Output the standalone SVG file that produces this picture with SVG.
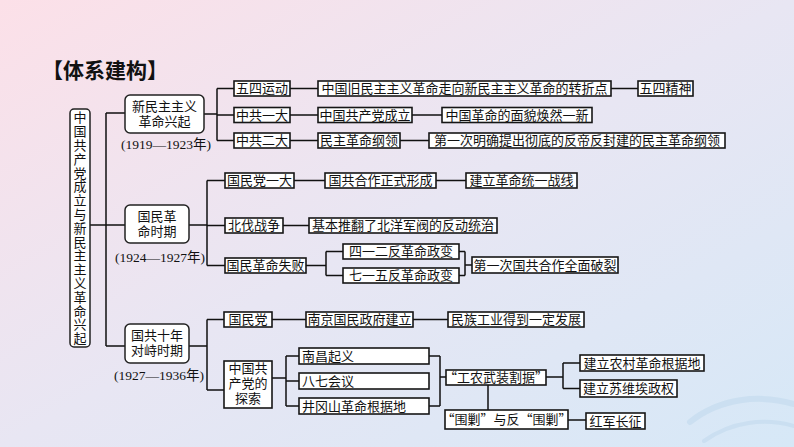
<svg xmlns="http://www.w3.org/2000/svg" width="794" height="447" viewBox="0 0 794 447">
<defs>
<linearGradient id="bg" x1="0" y1="0" x2="1" y2="1">
<stop offset="0" stop-color="#fce0e8"/>
<stop offset="0.5" stop-color="#e8e6f3"/>
<stop offset="1" stop-color="#d6e8f7"/>
</linearGradient>
<style>
.b{fill:#fff;stroke:#161616;stroke-width:1.6}
.n{fill:#fff;stroke:#222;stroke-width:1.5}
.t{font-family:"Noto Sans CJK SC","Noto Sans",sans-serif;font-size:13px;fill:#111;text-anchor:middle}
.l{text-anchor:start}
.y{font-family:"Liberation Serif","Noto Sans CJK SC",serif;font-size:13.5px;fill:#111;text-anchor:middle}
.c{fill:none;stroke:#111;stroke-width:1.5}
.w{fill:none;stroke:#c8def0;stroke-linecap:round}
</style>
</defs>
<rect width="794" height="447" fill="url(#bg)"/>
<g id="waves" opacity="0.8">
<path class="w" stroke-width="6" d="M690,422 C720,398 760,394 794,404"/>
<path class="w" stroke-width="4" d="M704,441 C732,421 765,418 794,426"/>
</g>
<text x="42" y="78" style="font-family:'Noto Sans CJK SC',sans-serif;font-size:21px;font-weight:700;fill:#111">【体系建构】</text>

<g id="connectors">
<path class="c" d="M90,225 H125 M106,113 V346 M106,113 H125 M106,346 H125"/>
<path class="c" d="M204,114 H217 M217,88.5 V140.5 M217,88.5 H234 M217,115 H234 M217,140.5 H234 M290,88.5 H318 M611,88.5 H638 M290,115 H318 M412,115 H442 M290,140.5 H318 M400,140.5 H429"/>
<path class="c" d="M189,225 H207 M207,180.5 V265.5 M207,180.5 H225 M207,225.5 H225 M207,265.5 H225 M294,180.5 H325 M436,180.5 H466 M283,225.5 H309 M306,265.5 H326 M326,251.5 V275.5 M326,251.5 H343 M326,275.5 H343 M459,251.5 H465 M459,275.5 H465 M465,251.5 V275.5 M465,265 H472"/>
<path class="c" d="M189,346 H207 M207,319.5 V390 M207,319.5 H224 M207,390 H224 M272,319.5 H306 M413,319.5 H448 M272,378 H286 M286,356 V406 M286,356 H299 M286,381 H299 M286,406 H299 M429,356 H440 M429,406 H440 M440,356 V406 M440,377 H446 M546,377 H563 M563,363 V388.5 M563,363 H580 M563,388.5 H580 M488,385 V410 M568,420 H586"/>
</g>

<g id="root">
<rect class="n" x="70" y="109" width="20" height="238" rx="4"/>
<text class="t" x="80" y="111" style="writing-mode:vertical-rl;text-anchor:start;letter-spacing:0.8px">中国共产党成立与新民主主义革命兴起</text>
</g>

<g id="node1">
<rect class="n" x="125" y="95" width="79" height="38" rx="5"/>
<text class="t"><tspan x="164.5" y="111">新民主主义</tspan><tspan x="164.5" dy="15">革命兴起</tspan></text>
<text class="y" x="166" y="149">(1919—1923年)</text>
</g>
<g id="node2">
<rect class="n" x="125" y="205" width="64" height="38" rx="5"/>
<text class="t"><tspan x="157" y="221">国民革</tspan><tspan x="157" dy="15">命时期</tspan></text>
<text class="y" x="160" y="262">(1924—1927年)</text>
</g>
<g id="node3">
<rect class="n" x="125" y="324" width="64" height="39" rx="5"/>
<text class="t"><tspan x="157" y="340">国共十年</tspan><tspan x="157" dy="15">对峙时期</tspan></text>
<text class="y" x="159" y="380">(1927—1936年)</text>
</g>

<g id="b-wusi"><rect class="b" x="234" y="81" width="56" height="15"/><text class="t" x="262" y="93">五四运动</text></g>
<g id="b-zhuanzhe"><rect class="b" x="318" y="81" width="293" height="15"/><text class="t" x="464.5" y="93">中国旧民主主义革命走向新民主主义革命的转折点</text></g>
<g id="b-jingshen"><rect class="b" x="638" y="81" width="55" height="15"/><text class="t" x="665.5" y="93">五四精神</text></g>
<g id="b-yida"><rect class="b" x="234" y="107.5" width="56" height="15"/><text class="t" x="262" y="119.5">中共一大</text></g>
<g id="b-chengli"><rect class="b" x="318" y="107.5" width="94" height="15"/><text class="t" x="365" y="119.5">中国共产党成立</text></g>
<g id="b-mianmao"><rect class="b" x="442" y="107.5" width="150" height="15"/><text class="t" x="517" y="119.5">中国革命的面貌焕然一新</text></g>
<g id="b-erda"><rect class="b" x="234" y="133" width="56" height="15"/><text class="t" x="262" y="145">中共二大</text></g>
<g id="b-gangling"><rect class="b" x="318" y="133" width="82" height="15"/><text class="t" x="359" y="145">民主革命纲领</text></g>
<g id="b-diyici"><rect class="b" x="429" y="133" width="296" height="15"/><text class="t" x="577" y="145">第一次明确提出彻底的反帝反封建的民主革命纲领</text></g>

<g id="b-gmdyd"><rect class="b" x="225" y="173" width="69" height="15"/><text class="t" x="259.5" y="185">国民党一大</text></g>
<g id="b-hezuo"><rect class="b" x="325" y="173" width="111" height="15"/><text class="t" x="380.5" y="185">国共合作正式形成</text></g>
<g id="b-tongyi"><rect class="b" x="466" y="173" width="111" height="15"/><text class="t" x="521.5" y="185">建立革命统一战线</text></g>
<g id="b-beifa"><rect class="b" x="225" y="218" width="58" height="15"/><text class="t" x="254" y="230">北伐战争</text></g>
<g id="b-tuifan"><rect class="b" x="309" y="218" width="188" height="15"/><text class="t" x="403" y="230">基本推翻了北洋军阀的反动统治</text></g>
<g id="b-shibai"><rect class="b" x="225" y="258" width="81" height="15"/><text class="t" x="265.5" y="270">国民革命失败</text></g>
<g id="b-412"><rect class="b" x="343" y="244" width="116" height="15"/><text class="t" x="401" y="256">四一二反革命政变</text></g>
<g id="b-715"><rect class="b" x="343" y="268" width="116" height="15"/><text class="t" x="401" y="280">七一五反革命政变</text></g>
<g id="b-polie"><rect class="b" x="472" y="257" width="146" height="16"/><text class="t" x="545" y="269.5">第一次国共合作全面破裂</text></g>

<g id="b-gmd"><rect class="b" x="224" y="312" width="48" height="15"/><text class="t" x="248" y="324">国民党</text></g>
<g id="b-nanjing"><rect class="b" x="306" y="312" width="107" height="15"/><text class="t" x="359.5" y="324">南京国民政府建立</text></g>
<g id="b-minzu"><rect class="b" x="448" y="312" width="136" height="15"/><text class="t" x="516" y="324">民族工业得到一定发展</text></g>
<g id="b-tansuo"><rect class="b" x="224" y="361" width="48" height="47"/><text class="t"><tspan x="248" y="373">中国共</tspan><tspan x="248" dy="15">产党的</tspan><tspan x="248" dy="15">探索</tspan></text></g>
<g id="b-nanchang"><rect class="b" x="299" y="348" width="130" height="16"/><text class="t l" x="302" y="360.5">南昌起义</text></g>
<g id="b-baqi"><rect class="b" x="299" y="373" width="130" height="16"/><text class="t l" x="302" y="385.5">八七会议</text></g>
<g id="b-jinggang"><rect class="b" x="299" y="398" width="130" height="16"/><text class="t l" x="302" y="410.5">井冈山革命根据地</text></g>
<g id="b-gegju"><rect class="b" x="446" y="370" width="100" height="15"/><text class="t" x="496" y="382">“工农武装割据”</text></g>
<g id="b-nongcun"><rect class="b" x="580" y="355" width="124" height="16"/><text class="t" x="642" y="367.5">建立农村革命根据地</text></g>
<g id="b-suweiai"><rect class="b" x="580" y="380" width="97" height="17"/><text class="t" x="628.5" y="393">建立苏维埃政权</text></g>
<g id="b-weijiao"><rect class="b" x="445" y="410" width="123" height="19"/><text class="t" x="506.5" y="424">“围剿”与反“围剿”</text></g>
<g id="b-changzheng"><rect class="b" x="586" y="413" width="59" height="16"/><text class="t" x="615.5" y="425.5">红军长征</text></g>
</svg>
